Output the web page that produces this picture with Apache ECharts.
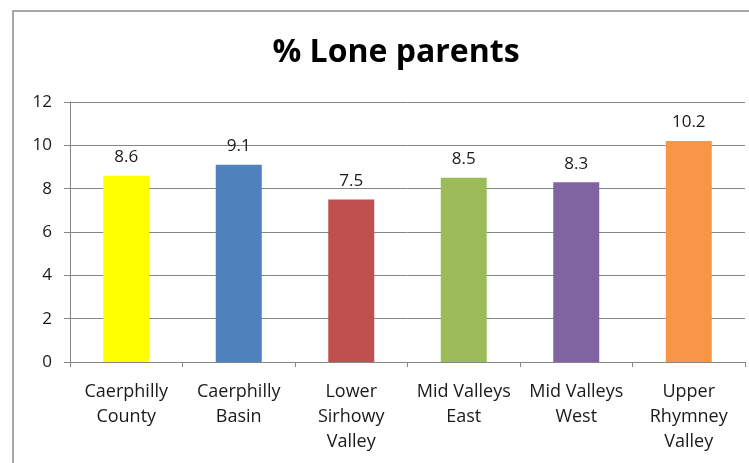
<!DOCTYPE html>
<html><head><meta charset="utf-8">
<script src="https://cdn.jsdelivr.net/npm/echarts@6/dist/echarts.min.js"></script>
<style>html,body{margin:0;padding:0;background:#fff}#c{width:749px;height:463px}</style>
</head><body><div id="c"></div>
<script>
const categories = ["Caerphilly\nCounty", "Caerphilly\nBasin", "Lower\nSirhowy\nValley", "Mid Valleys\nEast", "Mid Valleys\nWest", "Upper\nRhymney\nValley"];
const values = [8.6, 9.1, 7.5, 8.5, 8.3, 10.2];
const colors = ["#FFFF00", "#4F81BD", "#C0504D", "#9BBB59", "#8064A2", "#F79646"];
const yTicks = [0, 2, 4, 6, 8, 10, 12];
const titleText = "% Lone parents";

const chart = echarts.init(document.getElementById('c'), null, {renderer: 'canvas'});
const font = "'Open Sans', 'Noto Sans', sans-serif";
chart.setOption({
  animation: false,
  title: {text: titleText, left: 391, textAlign: 'center', top: 32,
    textStyle: {fontFamily: font, fontWeight: 'bold', fontSize: 32, color: '#000'}},
  graphic: [{type: 'rect', shape: {x: 13, y: 11, width: 800, height: 500},
    style: {fill: 'none', stroke: '#8a8a8a', lineWidth: 1.5}, silent: true}],
  grid: {left: 70, right: 4, top: 102, bottom: 101},
  xAxis: {type: 'category', data: categories,
    axisLine: {lineStyle: {color: '#868686', width: 1}},
    axisTick: {show: true, length: 5, lineStyle: {color: '#868686'}},
    axisLabel: {interval: 0, margin: 17, fontFamily: font, fontSize: 18, color: '#1a1a1a', lineHeight: 25}},
  yAxis: {type: 'value', min: yTicks[0], max: yTicks[yTicks.length-1], interval: 2,
    axisLine: {show: true, lineStyle: {color: '#868686', width: 1}},
    axisTick: {show: true, length: 6, lineStyle: {color: '#868686'}},
    splitLine: {lineStyle: {color: '#868686', width: 1}},
    axisLabel: {margin: 18, fontFamily: font, fontSize: 17, color: '#1a1a1a'}},
  series: [{type: 'bar', barWidth: 46,
    data: values.map((v, i) => ({value: v, itemStyle: {color: colors[i]}})),
    label: {show: true, position: 'top', distance: 10, fontFamily: font, fontSize: 17, color: '#1a1a1a',
      formatter: p => p.value.toFixed(1)}}]
});
</script></body></html>
